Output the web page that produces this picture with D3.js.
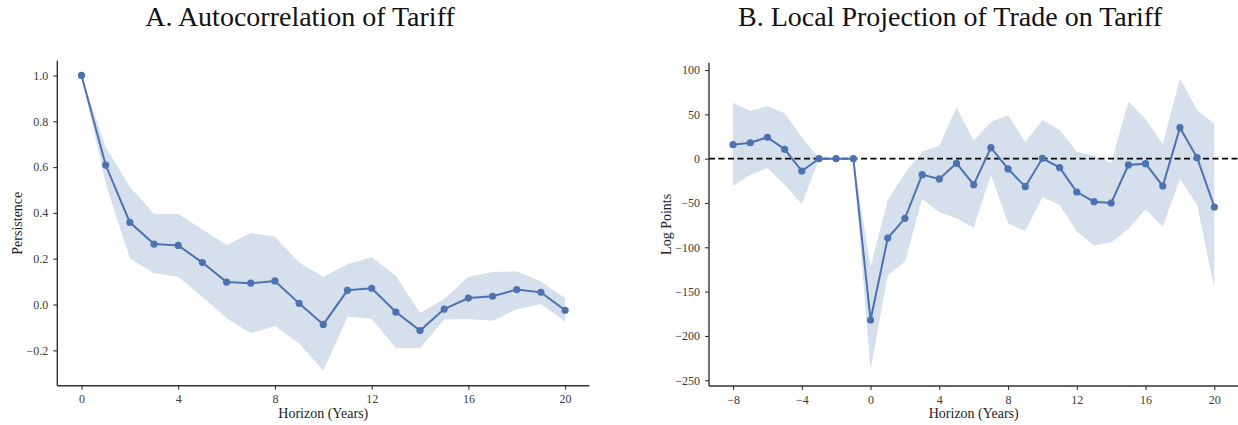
<!DOCTYPE html>
<html>
<head>
<meta charset="utf-8">
<script src="https://cdn.jsdelivr.net/npm/d3@7"></script>
<style>
  body { margin: 0; background: #fff; }
  svg text { font-family: "Liberation Serif", "DejaVu Serif", serif; }
</style>
</head>
<body>
<div id="chart"></div>
<script>
// Panel A: autocorrelation of tariff
var horizonA = d3.range(0, 21);
var persistence = [1.0, 0.609, 0.359, 0.264, 0.258, 0.183, 0.098, 0.093, 0.103, 0.005,
  -0.087, 0.062, 0.071, -0.033, -0.114, -0.020, 0.028, 0.036, 0.065, 0.053, -0.025];
var persistenceUpper = [1.0, 0.689, 0.514, 0.395, 0.395, 0.328, 0.26, 0.312, 0.296, 0.183,
  0.121, 0.176, 0.206, 0.126, -0.037, 0.024, 0.121, 0.142, 0.145, 0.10, 0.027];
var persistenceLower = [1.0, 0.529, 0.202, 0.136, 0.121, 0.034, -0.06, -0.126, -0.094, -0.17,
  -0.289, -0.053, -0.062, -0.191, -0.191, -0.065, -0.063, -0.071, -0.021, 0.002, -0.075];
var ticksAX = [0, 4, 8, 12, 16, 20];
var ticksAY = [-0.2, 0.0, 0.2, 0.4, 0.6, 0.8, 1.0];

// Panel B: local projection of trade on tariff
var horizonB = d3.range(-8, 21);
var logPoints = [15.8, 18, 24.1, 10.6, -13.9, 0, 0, 0, -182, -89.5, -67.3, -18, -22.9,
  -5.2, -29.3, 12.4, -11.6, -31.6, 0.4, -10.1, -37.6, -48.5, -50, -7.1, -5.6, -30.8, 35, 1.1, -54.5];
var logUpper = [63.2, 53.8, 59.5, 51.2, 24.1, 1, 0, 0, -122, -46.6, -16.5, 7.9, 14.7,
  58, 20.3, 41.4, 49, 18.8, 43.7, 32.4, 7.9, 3, -4.5, 64.3, 44.8, 16.3, 90.7, 55, 39.2];
var logLower = [-30.8, -18, -10.8, -29.7, -51.1, -1, 0, 0, -238.5, -131.3, -116.2, -45.5, -60.5,
  -67.3, -77.9, -18, -73, -81.6, -43.6, -52.3, -82.3, -98.1, -94.4, -79.3, -57.1, -76.7, -22.9, -52.3, -146.3];
var ticksBX = [-8, -4, 0, 4, 8, 12, 16, 20];
var ticksBY = [-250, -200, -150, -100, -50, 0, 50, 100];

var lineColor = "#4c72b0";
var bandColor = "#d6dfec";
var axisColor = "#333";
var serif = "'Liberation Serif', 'DejaVu Serif', serif";

var svg = d3.select("#chart").append("svg")
  .attr("width", 1238)
  .attr("height", 425);

function drawPanel(opt) {
  var x = d3.scaleLinear().domain(opt.xDomain).range([opt.left, opt.right]);
  var y = d3.scaleLinear().domain(opt.yDomain).range([opt.bottom, opt.top]);
  var g = svg.append("g");

  var rows = opt.xs.map(function(h, i) {
    return { h: h, v: opt.values[i], lo: opt.lower[i], hi: opt.upper[i] };
  });

  // confidence band
  g.append("path")
    .datum(rows)
    .attr("fill", bandColor)
    .attr("d", d3.area()
      .x(function(d) { return x(d.h); })
      .y0(function(d) { return y(d.lo); })
      .y1(function(d) { return y(d.hi); }));

  // zero reference line
  if (opt.zeroLine) {
    g.append("line")
      .attr("x1", opt.left).attr("x2", opt.right)
      .attr("y1", y(0)).attr("y2", y(0))
      .attr("stroke", "#000")
      .attr("stroke-width", 1.8)
      .attr("stroke-dasharray", "6,3.5");
  }

  // point estimates
  g.append("path")
    .datum(rows)
    .attr("fill", "none")
    .attr("stroke", lineColor)
    .attr("stroke-width", 2)
    .attr("d", d3.line()
      .x(function(d) { return x(d.h); })
      .y(function(d) { return y(d.v); }));

  g.selectAll(".dot")
    .data(rows)
    .enter().append("circle")
    .attr("cx", function(d) { return x(d.h); })
    .attr("cy", function(d) { return y(d.v); })
    .attr("r", 3.6)
    .attr("fill", lineColor);

  // axes
  var xAxis = g.append("g")
    .attr("transform", "translate(0," + opt.bottom + ")")
    .call(d3.axisBottom(x).tickValues(opt.xTicks).tickSize(4).tickPadding(5)
      .tickFormat(function(d) { return d < 0 ? "\u2212" + (-d) : d; }));
  var yAxis = g.append("g")
    .attr("transform", "translate(" + opt.left + ",0)")
    .call(d3.axisLeft(y).tickValues(opt.yTicks).tickSize(4).tickPadding(5)
      .tickFormat(function(d) {
        var s = opt.yFormat(Math.abs(d));
        return d < 0 ? "\u2212" + s : s;
      }));

  [xAxis, yAxis].forEach(function(a) {
    a.attr("font-family", serif).attr("font-size", 12);
    a.select(".domain").attr("stroke", axisColor).attr("stroke-width", 1.4);
    a.selectAll(".tick line").attr("stroke", axisColor).attr("stroke-width", 1.1);
    a.selectAll(".tick text")
      .attr("fill", "#3a3a3a")
      .style("font-family", serif)
      .style("font-size", "12px");
  });
  xAxis.select(".domain").attr("d", "M" + opt.left + ",0H" + opt.right);
  yAxis.select(".domain").attr("d", "M0," + opt.top + "V" + opt.bottom);

  // labels and title
  g.append("text")
    .attr("x", (opt.left + opt.right) / 2)
    .attr("y", 418)
    .attr("text-anchor", "middle")
    .attr("fill", "#222")
    .style("font-size", "14px")
    .text("Horizon (Years)");

  g.append("text")
    .attr("transform", "translate(" + opt.yLabelX + "," + ((opt.top + opt.bottom) / 2) + ") rotate(-90)")
    .attr("text-anchor", "middle")
    .attr("fill", "#222")
    .style("font-size", "14px")
    .text(opt.yLabel);

  g.append("text")
    .attr("x", opt.titleX)
    .attr("y", 26)
    .attr("text-anchor", "middle")
    .attr("fill", "#111")
    .style("font-size", "28px")
    .text(opt.title);
}

drawPanel({
  xs: horizonA, values: persistence, upper: persistenceUpper, lower: persistenceLower,
  xDomain: [-1, 21], yDomain: [-0.3545, 1.0645],
  left: 57.3, right: 589.3, top: 60.7, bottom: 385.7,
  xTicks: ticksAX, yTicks: ticksAY, yFormat: d3.format(".1f"),
  yLabel: "Persistence", yLabelX: 22,
  title: "A. Autocorrelation of Tariff", titleX: 300,
  zeroLine: false
});

drawPanel({
  xs: horizonB, values: logPoints, upper: logUpper, lower: logLower,
  xDomain: [-9.4, 21.4], yDomain: [-256.5, 108.3],
  left: 709, right: 1238.4, top: 62.7, bottom: 386,
  xTicks: ticksBX, yTicks: ticksBY, yFormat: d3.format("d"),
  yLabel: "Log Points", yLabelX: 671,
  title: "B. Local Projection of Trade on Tariff", titleX: 950,
  zeroLine: true
});
</script>
</body>
</html>
